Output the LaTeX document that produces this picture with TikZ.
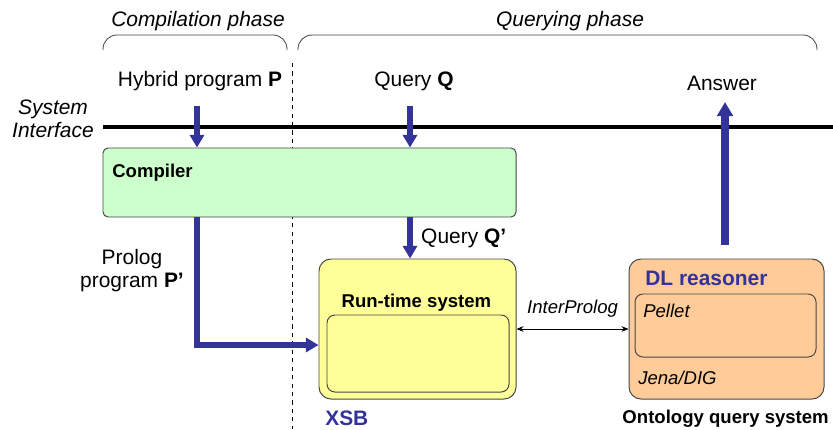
\documentclass[tikz,border=0pt]{standalone}
\usepackage{fontspec}
\setmainfont{Liberation Sans}
\usepackage{tikz}
\usetikzlibrary{arrows.meta, positioning, calc}

\begin{document}
\begin{tikzpicture}[
    box/.style={rectangle, draw=boxgray, line width=0.7pt},
    fatarrow/.style={-{Triangle[width=10pt, length=9pt]}, line width=4.6pt, arrowblue, line join=miter},
    linkarrow/.style={{Stealth[length=5pt, width=4pt]}-{Stealth[length=5pt, width=4pt]}, line width=0.6pt, black},
    biglabel/.style={font=\fontsize{14.9pt}{16.5pt}\selectfont, inner sep=0pt, text=black},
    boxlabel/.style={font=\fontsize{13.2pt}{15pt}\selectfont, inner sep=0pt, text=black},
    brace/.style={draw=boxgray, line width=0.6pt, rounded corners=0.35cm}
]

% Colours taken from the slide
\definecolor{compcolor}{RGB}{204, 255, 204}
\definecolor{rtcolor}{RGB}{255, 255, 153}
\definecolor{ontocolor}{RGB}{255, 204, 153}
\definecolor{arrowblue}{RGB}{51, 51, 153}
\definecolor{boxgray}{RGB}{70, 70, 70}

\useasboundingbox (0,0) rectangle (20.825,10.725);

% Phases
\node[biglabel, anchor=base, font=\fontsize{14.9pt}{16.5pt}\selectfont\itshape] (compphase) at (4.95,10.075) {Compilation phase};
\node[biglabel, anchor=base, font=\fontsize{14.9pt}{16.5pt}\selectfont\itshape] (queryphase) at (14.25,10.075) {Querying phase};
\draw[brace] (2.575,9.475) -- (2.575,9.85) -- (7.175,9.85) -- (7.175,9.475);
\draw[brace] (7.45,9.475) -- (7.45,9.85) -- (20.425,9.85) -- (20.425,9.475);
\draw[dashed, line width=0.5pt] (7.3,9.15) -- (7.3,0);

% System interface
\node[biglabel, align=center, font=\fontsize{14.9pt}{16.5pt}\selectfont\itshape] (sysif) at (1.325,7.75) {System\\Interface};
\draw[line width=2.8pt] (2.575,7.55) -- (20.825,7.55);

% Inputs and output
\node[biglabel, anchor=base] (hybrid) at (5.0,8.575) {Hybrid program \textbf{P}};
\node[biglabel, anchor=base] (query) at (10.35,8.575) {Query \textbf{Q}};
\node[biglabel, anchor=base] (answer) at (18.05,8.475) {Answer};
\coordinate (inP) at (4.925,8.075);
\coordinate (inQ) at (10.25,8.075);
\coordinate (outA) at (18.125,8.175);
\coordinate (footA) at (18.125,4.6);

% Compiler
\node[box, fill=compcolor, rounded corners=0.125cm, minimum width=10.325cm, minimum height=1.725cm] (compiler) at (7.7375,6.1625) {};
\node[boxlabel, anchor=base west, font=\fontsize{13.2pt}{15pt}\selectfont\bfseries] (complabel) at (2.8,6.3) {Compiler};

% Run-time system (XSB)
\node[box, fill=rtcolor, rounded corners=0.3cm, minimum width=4.925cm, minimum height=3.5cm] (runtime) at (10.4375,2.5) {};
\node[box, fill=rtcolor, rounded corners=0.2cm, minimum width=4.55cm, minimum height=1.925cm] (rtinner) at (10.45,1.8875) {};
\node[boxlabel, anchor=base, font=\fontsize{13.2pt}{15pt}\selectfont\bfseries] (rtlabel) at (10.41,3.05) {Run-time system};
\node[biglabel, anchor=base west, text=arrowblue, font=\fontsize{14.9pt}{16.5pt}\selectfont\bfseries] (xsb) at (8.125,0.1) {XSB};

% Ontology query system
\node[box, fill=ontocolor, rounded corners=0.3cm, minimum width=4.875cm, minimum height=3.5cm] (onto) at (18.1625,2.5) {};
\node[box, fill=ontocolor, rounded corners=0.2cm, minimum width=4.525cm, minimum height=1.575cm] (ontoinner) at (18.1375,2.5875) {};
\node[biglabel, anchor=base west, text=arrowblue, font=\fontsize{14.9pt}{16.5pt}\selectfont\bfseries] (dl) at (16.125,3.6) {DL reasoner};
\node[boxlabel, anchor=base west, font=\fontsize{13.2pt}{15pt}\selectfont\itshape] (pellet) at (16.075,2.8) {Pellet};
\node[boxlabel, anchor=base west, font=\fontsize{13.2pt}{15pt}\selectfont\itshape] (jena) at (15.95,1.125) {Jena/DIG};
\node[boxlabel, anchor=base, font=\fontsize{13.2pt}{15pt}\selectfont\bfseries] (ontolabel) at (18.14,0.15) {Ontology query system};

% Arrows
\draw[fatarrow] (inP) -- (inP |- compiler.north);
\draw[fatarrow] (inQ) -- (inQ |- compiler.north);
\draw[fatarrow] (inQ |- compiler.south) -- (inQ |- runtime.north)
    node[pos=0.5, right=0.2cm, biglabel] {Query \textbf{Q’}};
\draw[fatarrow] (inP |- compiler.south) |- ($(runtime.west)+(0,-0.4)$);
\node[biglabel, align=center] (prolog) at (3.3,3.96) {Prolog\\program \textbf{P’}};
\draw[fatarrow, -{Triangle[width=11pt, length=10pt]}, line width=5.4pt] (footA) -- (outA);
\draw[linkarrow] (runtime.east) -- node[above=0.27cm, boxlabel, font=\fontsize{13.2pt}{15pt}\selectfont\itshape] {InterProlog} (onto.west);

\end{tikzpicture}
\end{document}
